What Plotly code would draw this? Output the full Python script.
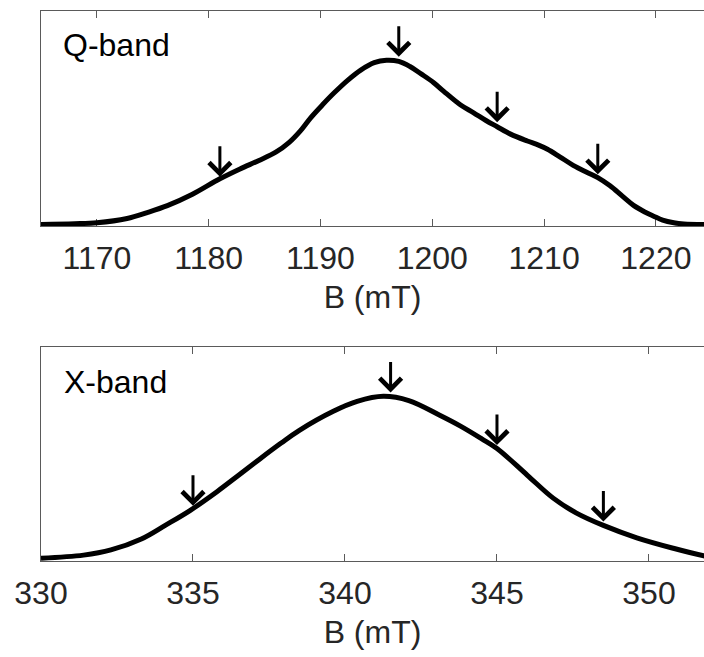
import plotly.graph_objects as go

# ---- Q-band spectrum (B in mT, normalised intensity) ----
q_field = [1165, 1168, 1170, 1172.7, 1174.5, 1176.3, 1178.5, 1181, 1182.8, 1184.5,
           1186.0, 1187.2, 1188.2, 1189.1, 1190.2, 1191.2, 1192.4, 1193.6, 1194.8, 1195.9,
           1197.0, 1198.0, 1199.0, 1200.1, 1201.0, 1202.5, 1203.7, 1204.8, 1205.8,
           1207.0, 1208.5, 1209.5, 1210.3, 1211.4, 1212.6, 1213.9, 1214.8, 1215.9,
           1217.0, 1218.0, 1219.0, 1219.8, 1220.6, 1221.6, 1222.5, 1225]
q_intensity = [0, 0.004, 0.010, 0.036, 0.072, 0.114, 0.182, 0.278, 0.338, 0.39,
               0.44, 0.50, 0.57, 0.648, 0.73, 0.80, 0.876, 0.94, 0.985, 1.0,
               0.993, 0.962, 0.917, 0.865, 0.812, 0.729, 0.68, 0.633, 0.595,
               0.55, 0.508, 0.483, 0.458, 0.412, 0.36, 0.315, 0.285, 0.235,
               0.172, 0.116, 0.076, 0.050, 0.026, 0.01, 0.003, 0]
q_arrow_field = [1181, 1197, 1205.8, 1214.8]
q_arrow_tip = [0.29, 1.022, 0.623, 0.305]

# ---- X-band spectrum ----
x_field = [330, 331.4, 332.3, 333.3, 334.1, 334.9, 335.8, 336.5, 337.2, 337.9,
           338.5, 339.6, 340.4, 341.26, 342.1, 343.1, 343.8, 344.5, 345.0, 346.0,
           346.85, 347.6, 348.5, 349.6, 350.8, 351.8, 352]
x_intensity = [0.007, 0.026, 0.058, 0.125, 0.21, 0.299, 0.416, 0.515, 0.615, 0.712,
               0.79, 0.905, 0.967, 0.998, 0.972, 0.884, 0.816, 0.738, 0.679, 0.515,
               0.375, 0.285, 0.208, 0.132, 0.068, 0.022, 0.016]
x_arrow_field = [335, 341.5, 345, 348.5]
x_arrow_tip = [0.328, 1.022, 0.70, 0.232]

panel_labels = ["Q-band", "X-band"]
axis_title = "B (mT)"

FONT = "Liberation Sans, Arial, Helvetica, sans-serif"
AXC = "#5a5a5a"
TXT = "#262626"
FS = 32

fig = go.Figure()
fig.add_trace(go.Scatter(x=q_field, y=q_intensity, mode="lines",
                         line=dict(color="black", width=5, shape="spline", smoothing=1.0),
                         xaxis="x", yaxis="y", hoverinfo="skip"))
fig.add_trace(go.Scatter(x=x_field, y=x_intensity, mode="lines",
                         line=dict(color="black", width=5, shape="spline", smoothing=1.0),
                         xaxis="x2", yaxis="y2", hoverinfo="skip"))

annotations = []
for bx, by in zip(q_arrow_field, q_arrow_tip):
    annotations.append(dict(x=bx, y=by, xref="x", yref="y", ax=0, ay=-32, text="",
                            showarrow=True, arrowhead=4, arrowsize=1.4, arrowwidth=3,
                            arrowcolor="black", standoff=0))
for bx, by in zip(x_arrow_field, x_arrow_tip):
    annotations.append(dict(x=bx, y=by, xref="x2", yref="y2", ax=0, ay=-32, text="",
                            showarrow=True, arrowhead=4, arrowsize=1.4, arrowwidth=3,
                            arrowcolor="black", standoff=0))
annotations.append(dict(x=0.030, y=0.84, xref="x domain", yref="y domain", text=panel_labels[0],
                        showarrow=False, xanchor="left", yanchor="middle",
                        font=dict(family=FONT, size=FS, color="black")))
annotations.append(dict(x=0.032, y=0.838, xref="x2 domain", yref="y2 domain", text=panel_labels[1],
                        showarrow=False, xanchor="left", yanchor="middle",
                        font=dict(family=FONT, size=FS, color="black")))

def xax(rng, dtick, anchor):
    return dict(range=rng, dtick=dtick, anchor=anchor, showline=True, linecolor=AXC,
                linewidth=1, mirror="ticks", ticks="inside", ticklen=7, tickwidth=1,
                tickcolor=AXC, showgrid=False, zeroline=False, layer="below traces",
                ticklabelstandoff=4,
                tickfont=dict(family=FONT, size=FS, color=TXT),
                title=dict(text=axis_title, font=dict(family=FONT, size=FS, color=TXT), standoff=10))

def yax(domain, anchor):
    return dict(domain=domain, range=[-0.01, 1.3], anchor=anchor, showline=True, linecolor=AXC,
                linewidth=1, mirror=False, ticks="", showticklabels=False, showgrid=False,
                zeroline=False, layer="below traces")

fig.update_layout(
    width=704, height=657,
    margin=dict(l=41, r=0, t=11, b=96),
    paper_bgcolor="white", plot_bgcolor="white",
    showlegend=False,
    xaxis=xax([1165, 1224.3], 10, "y"),
    yaxis=yax([0.609, 1.0], "x"),
    xaxis2=xax([330, 351.81], 5, "y2"),
    yaxis2=yax([0.0, 0.389], "x2"),
    annotations=annotations,
)

fig.write_html("out.html")
